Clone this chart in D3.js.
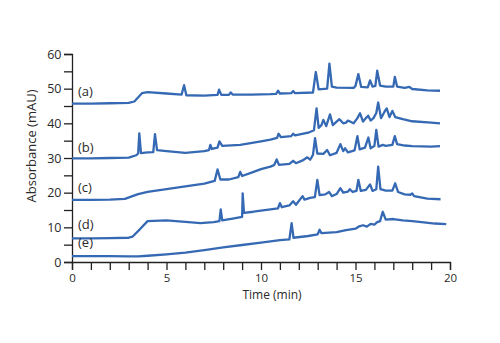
<!DOCTYPE html>
<html><head><meta charset="utf-8">
<script src="https://cdn.jsdelivr.net/npm/d3@7"></script>
<style>body{margin:0;background:#fff}svg{display:block}text{font-family:"Open Sans",sans-serif;fill:#2a2a2a}</style>
</head><body><svg width="500" height="343"></svg>
<script>
const traceLabels = ["(a)", "(b)", "(c)", "(d)", "(e)"];
const xTicks = [0, 5, 10, 15, 20];
const yTicks = [0, 10, 20, 30, 40, 50, 60];
const traceA = [[0,45.7],[1,45.7],[2,45.8],[3,45.9],[3.3,46.3],[3.7,48.7],[4,49.0],[5,48.6],[5.8,48.3],[5.93,51.0],[6.05,48.1],[7,48.0],[7.7,48.2],[7.78,49.7],[7.9,48.2],[8.3,48.2],[8.4,48.9],[8.5,48.3],[9.5,48.3],[10.5,48.4],[10.8,48.5],[10.9,49.4],[11.0,48.6],[11.6,48.7],[11.7,49.3],[11.8,48.7],[12.75,48.9],[12.9,54.8],[13.05,49.8],[13.5,50.0],[13.62,57.2],[13.75,50.6],[14,50.3],[14.9,50.2],[15.0,50.8],[15.15,54.2],[15.3,50.5],[15.65,50.4],[15.77,52.4],[15.9,50.6],[16.05,50.8],[16.15,55.2],[16.3,50.9],[16.6,50.6],[17.0,50.6],[17.08,53.4],[17.2,50.6],[17.6,50.2],[17.85,50.5],[18.0,49.9],[18.8,49.5],[19.47,49.4]];
const traceB = [[0,29.9],[1,29.9],[2,30.0],[3,30.1],[3.4,30.8],[3.5,31.3],[3.56,37.1],[3.65,31.4],[4.0,31.6],[4.3,31.7],[4.39,36.9],[4.5,32.3],[5,32.0],[6,31.5],[7,32.0],[7.25,32.3],[7.32,33.8],[7.4,32.6],[7.7,33.0],[7.8,34.8],[7.95,33.5],[8.9,33.8],[10,34.8],[10.5,35.3],[10.85,35.8],[10.93,37.0],[11.05,36.0],[11.6,36.3],[11.7,37.0],[11.8,36.5],[12.5,37.3],[12.8,38.0],[12.94,44.3],[13.05,38.7],[13.2,39.5],[13.3,41.0],[13.45,39.2],[13.65,42.6],[13.8,39.5],[14.0,40.5],[14.15,41.2],[14.35,40.0],[14.5,40.2],[14.6,40.8],[14.9,40.0],[15.1,41.5],[15.24,42.9],[15.4,40.5],[15.55,41.5],[15.67,42.2],[15.8,40.8],[15.95,41.5],[16.1,43.0],[16.2,46.0],[16.35,41.5],[16.55,43.5],[16.65,44.3],[16.8,41.8],[16.95,43.6],[17.1,41.8],[17.5,41.2],[18,40.6],[19,40.2],[19.47,40.0]];
const traceC = [[0,17.9],[1,17.9],[2,18.0],[2.8,18.2],[3.2,19.0],[3.5,19.6],[4,20.2],[5,21.0],[6,21.8],[7,22.6],[7.55,23.4],[7.7,26.7],[7.85,23.8],[8.3,23.8],[8.8,24.5],[8.9,26.0],[9.0,24.8],[9.5,25.8],[10,26.8],[10.5,27.5],[10.7,28.0],[10.83,29.6],[10.95,28.0],[11.5,28.3],[11.7,29.2],[11.85,28.5],[12.2,29.3],[12.45,30.2],[12.6,29.5],[12.75,30.9],[12.86,35.7],[12.98,31.3],[13.3,31.2],[13.5,32.3],[13.65,30.8],[14.0,31.5],[14.2,34.0],[14.35,32.0],[14.45,32.8],[14.6,31.6],[14.95,32.2],[15.1,36.3],[15.22,32.5],[15.5,33.0],[15.68,35.9],[15.8,32.8],[16.0,33.5],[16.1,38.1],[16.22,33.3],[16.45,33.8],[16.6,33.5],[16.95,33.8],[17.08,36.3],[17.2,34.0],[17.6,33.6],[18,33.4],[19,33.3],[19.47,33.4]];
const traceD = [[0,6.8],[1,6.8],[2,6.9],[3,7.0],[3.2,7.3],[3.6,9.5],[4.0,11.8],[5,12.0],[6,11.6],[6.8,11.2],[7.5,11.5],[7.8,11.8],[7.87,15.2],[7.95,12.0],[8.5,12.5],[9.0,13.0],[9.03,19.8],[9.1,14.2],[9.6,14.5],[10.5,15.2],[10.9,15.5],[11.0,17.0],[11.1,15.8],[11.5,16.3],[11.7,17.5],[11.85,16.5],[12.2,19.0],[12.3,18.0],[12.6,18.5],[12.85,18.7],[12.98,23.7],[13.1,19.3],[13.4,19.5],[13.6,20.2],[13.75,19.0],[14.0,19.6],[14.2,21.3],[14.35,20.0],[14.6,20.3],[14.7,21.0],[14.85,20.2],[15.05,20.5],[15.15,23.7],[15.28,20.5],[15.55,20.8],[15.77,22.4],[15.9,20.5],[16.1,21.0],[16.2,27.5],[16.32,21.0],[16.6,20.6],[16.95,20.6],[17.1,22.7],[17.25,20.2],[17.6,19.5],[17.9,19.4],[18.0,19.8],[18.1,19.0],[18.8,18.3],[19.5,18.1]];
const traceE = [[0,1.7],[1,1.7],[2,1.7],[3,1.6],[3.5,1.6],[4,1.8],[5,2.2],[6,2.7],[7,3.4],[8,4.2],[9,4.9],[10,5.6],[11,6.3],[11.5,6.5],[11.62,11.2],[11.72,7.0],[12.5,7.5],[13.0,8.0],[13.1,9.3],[13.2,8.3],[14,8.6],[14.5,9.2],[15.0,9.6],[15.2,10.3],[15.4,10.6],[15.6,10.2],[15.8,11.0],[16.0,10.8],[16.15,11.5],[16.3,11.8],[16.44,14.5],[16.6,12.2],[17,12.4],[17.5,12.0],[18,11.8],[18.5,11.5],[19.2,11.1],[19.8,10.9]];
const labelY = [48.9, 33.0, 21.3, 10.7, 5.5];

const traces = [traceA, traceB, traceC, traceD, traceE];
const svg = d3.select("svg");
const x = d3.scaleLinear().domain([0, 20]).range([72, 450]);
const y = d3.scaleLinear().domain([0, 60]).range([262, 54]);

const xAxis = svg.append("g").attr("transform", "translate(0,262)")
  .call(d3.axisBottom(x).tickValues(d3.range(0, 21, 1)).tickSize(8).tickPadding(3.5)
    .tickFormat(d => xTicks.includes(d) ? d : ""));
const yAxis = svg.append("g").attr("transform", "translate(72,0)")
  .call(d3.axisLeft(y).tickValues(d3.range(0, 61, 5)).tickSize(8).tickPadding(2.5)
    .tickFormat(d => yTicks.includes(d) ? d : ""));
[xAxis, yAxis].forEach(g => {
  g.select(".domain").attr("stroke", "#222").attr("stroke-width", 1.3);
  g.selectAll(".tick line").attr("stroke", "#222").attr("stroke-width", 1.3);
  g.selectAll(".tick text").attr("font-family", "Open Sans").attr("fill", "#2a2a2a");
});
xAxis.selectAll(".tick text").attr("font-size", 11.5);
yAxis.selectAll(".tick text").attr("font-size", 12.5);

svg.append("text").attr("x", 272).attr("y", 298.5).attr("text-anchor", "middle")
  .attr("font-size", 12).text("Time (min)");
svg.append("text").attr("transform", "translate(36,146) rotate(-90)").attr("text-anchor", "middle")
  .attr("font-size", 13).text("Absorbance (mAU)");

const line = d3.line().x(d => x(d[0])).y(d => y(d[1]));
traces.forEach(t => {
  svg.append("path").datum(t).attr("d", line).attr("fill", "none")
    .attr("stroke", "#3669b3").attr("stroke-width", 2.3).attr("stroke-linejoin", "round");
});
traceLabels.forEach((l, i) => {
  svg.append("text").attr("x", 78).attr("y", y(labelY[i]) + 4).attr("font-size", 13).text(l);
});
</script></body></html>
